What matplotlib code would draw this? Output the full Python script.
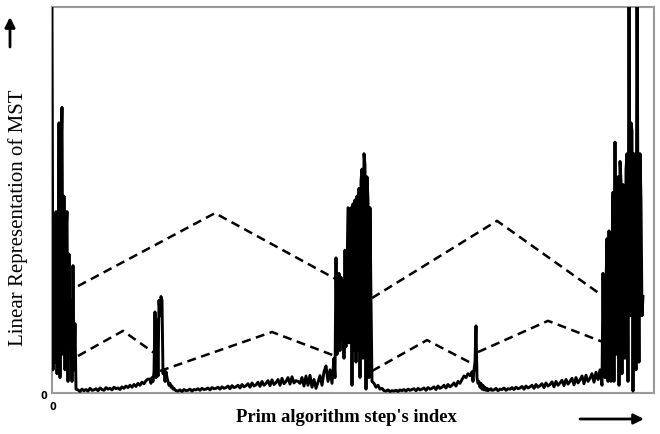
import numpy as np
import matplotlib.pyplot as plt

# black trace, one list per stretch: (first step, step size, values)
burst_a = [100, 6, 30, 8, 47, 5, 18, 70, 4, 60, 74, 10, 51, 6, 40, 47, 3, 36, 12, 24,
           3, 33, 6, 18, 1]
floor_b = [0.8, 0.4, 1.0, 0.6, 0.9, 0.5, 1.2, 0.7, 0.8, 1.1, 0.6, 1.3, 0.9, 0.7, 1.4, 1.0,
           1.2, 0.8, 1.5, 1.1, 1.3, 0.9, 1.6, 1.2, 1.8, 1.4, 2.0, 1.5, 2.2, 1.7, 2.5, 2.0,
           2.8, 2.4, 3.2, 3.6]
spike_c = [3.6, 2.5, 4.0, 3.0, 5.5, 21, 4, 19, 4.4, 24, 20, 25, 24, 5, 6, 3, 5.5, 4, 3, 2,
           2.5, 1.5, 1.8, 1.0, 1.2, 0.8, 0.6]
floor_d = [0.5, 0.8, 0.4, 0.9, 0.6, 0.7, 1.0, 0.5, 0.9, 0.8,
           1.1, 0.7, 1.2, 0.9, 1.0, 1.3, 0.8, 1.4, 1.1, 1.2,
           1.5, 1.0, 1.6, 1.2, 1.4, 1.8, 1.1, 1.9, 1.4, 1.6,
           2.0, 1.3, 2.2, 1.6, 1.9, 2.4, 1.5, 2.6, 1.8, 2.1,
           2.8, 1.7, 3.0, 2.0, 2.5, 3.2, 1.9, 3.4, 2.2, 2.7,
           3.5, 2.0, 3.8, 2.4, 3.0, 4.0, 2.3, 4.2, 2.6, 3.2, 3.0]
pre_e = [2.5, 4.0, 1.8, 4.4, 2.0, 4.6, 1.5, 3.5, 1.2, 2.8, 4.5, 2.0, 5.5, 7.0, 3.0, 6.0,
         2.5, 9.0]
burst_f = [4, 35, 10, 14, 31, 11, 30, 14, 29, 9, 37, 12, 30, 48, 13, 47, 48, 2, 49, 11,
           50, 8, 51, 11, 53, 4, 55, 58, 9, 62, 59, 1, 56, 50, 4, 48, 24, 3]
floor_g = [2.5, 1.5, 2.0, 1.0, 1.2, 0.6, 0.5, 0.8, 0.4, 0.6,
           0.5, 0.7, 0.4, 0.8, 0.6, 0.9, 0.5, 1.0, 0.7, 0.9,
           1.1, 0.6, 1.2, 0.8, 1.0, 1.3, 0.7, 1.4, 1.0, 1.2,
           1.6, 0.9, 1.8, 1.2, 1.5, 2.0, 1.3, 2.2, 1.6, 2.0,
           2.6, 1.8, 3.0, 2.5, 3.5, 4.4, 4.0, 5.0, 4.5]
spike_h = [5.5, 3, 6, 8, 17.4, 4, 2.5, 3, 1.5, 2.5, 1, 2, 0.8, 1.5, 0.7, 1.2, 0.6, 1.0,
           0.8, 1.1, 0.7]
floor_i = [0.8, 1.2, 0.6, 1.0, 0.9, 1.3, 0.7, 1.1, 1.0, 1.4,
           0.9, 1.5, 1.1, 1.3, 1.7, 1.0, 1.8, 1.3, 1.6, 2.0,
           1.2, 2.2, 1.5, 1.9, 2.4, 1.4, 2.6, 1.8, 2.2, 2.9,
           1.6, 3.0, 2.0, 2.6, 3.3, 1.9, 3.5, 2.3, 3.0, 3.8,
           2.1, 4.0, 2.6, 3.4, 4.4, 2.4, 4.6, 3.0, 3.8, 5.0,
           2.8, 5.4, 3.5, 6.0]
burst_j = [2, 31, 5, 4, 28, 40, 3, 42, 24, 3, 37, 52, 3, 65, 10, 48, 56, 2, 60, 55,
           5, 54, 48, 9, 58, 62, 3, 115, 20, 70, 68, 0.5, 62, 40, 6, 110, 45, 8, 62, 50,
           20, 25]

stretches = [(0, 1, burst_a), (26, 2, floor_b), (98, 1, spike_c), (126, 2, floor_d),
             (248, 2, pre_e), (283, 1, burst_f), (322, 2, floor_g), (420, 1, spike_h),
             (442, 2, floor_i), (550, 1, burst_j)]

# dashed zig-zags (step, value) corners
upper_1 = [(26, 27.7), (163, 46.6), (284, 29.5)]
upper_2 = [(320, 24.6), (445, 44.6), (551, 25.1)]
lower_1 = [(26, 9.6), (71, 16.1), (102, 10.4)]
lower_2 = [(108, 5.7), (220, 15.8), (283, 9.6)]
lower_3 = [(320, 5.7), (375, 13.7), (421, 7.5)]
lower_4 = [(426, 10.6), (496, 18.7), (551, 13.2)]

xs, ys = [], []
for start, step, vals in stretches:
    xs.extend(start + step * np.arange(len(vals)))
    ys.extend(vals)

fig = plt.figure(figsize=(6.6, 4.35), dpi=100)
ax = fig.add_axes([52 / 660, 41 / 435, 602 / 660, 386 / 435])

for corners in [upper_1, upper_2, lower_1, lower_2, lower_3, lower_4]:
    cx, cy = zip(*corners)
    ax.plot(cx, cy, color='black', lw=1.8, linestyle=(0, (3.6, 2.2)), zorder=2)

ax.plot(xs, ys, color='black', lw=2.1, zorder=3)

ax.set_xlim(0, 602)
ax.set_ylim(0, 100)
ax.set_xticks([])
ax.set_yticks([])
for sp in ax.spines.values():
    sp.set_color('#9a9a9a')
    sp.set_linewidth(1.5)

fig.text(18 / 660, 1 - 218 / 435, 'Linear Representation of MST', rotation=90,
         ha='center', va='center', family='Liberation Serif', fontsize=15)
fig.text(346 / 660, 1 - 418 / 435, "Prim algorithm step's index", ha='center', va='center',
         family='Liberation Serif', fontweight='bold', fontsize=13.4)
fig.text(44 / 660, 1 - 396 / 435, '0', ha='center', va='center', fontsize=7, fontweight='bold')
fig.text(53 / 660, 1 - 407 / 435, '0', ha='center', va='center', fontsize=7, fontweight='bold')

arrow = dict(arrowstyle='-|>', lw=2, color='black', mutation_scale=15, shrinkA=0, shrinkB=0)
ax.annotate('', xy=(10, 417), xytext=(10, 387), xycoords='figure pixels',
            textcoords='figure pixels', arrowprops=arrow)
ax.annotate('', xy=(644, 15), xytext=(580, 15), xycoords='figure pixels',
            textcoords='figure pixels', arrowprops=arrow)

plt.savefig('out.png', dpi=100)
